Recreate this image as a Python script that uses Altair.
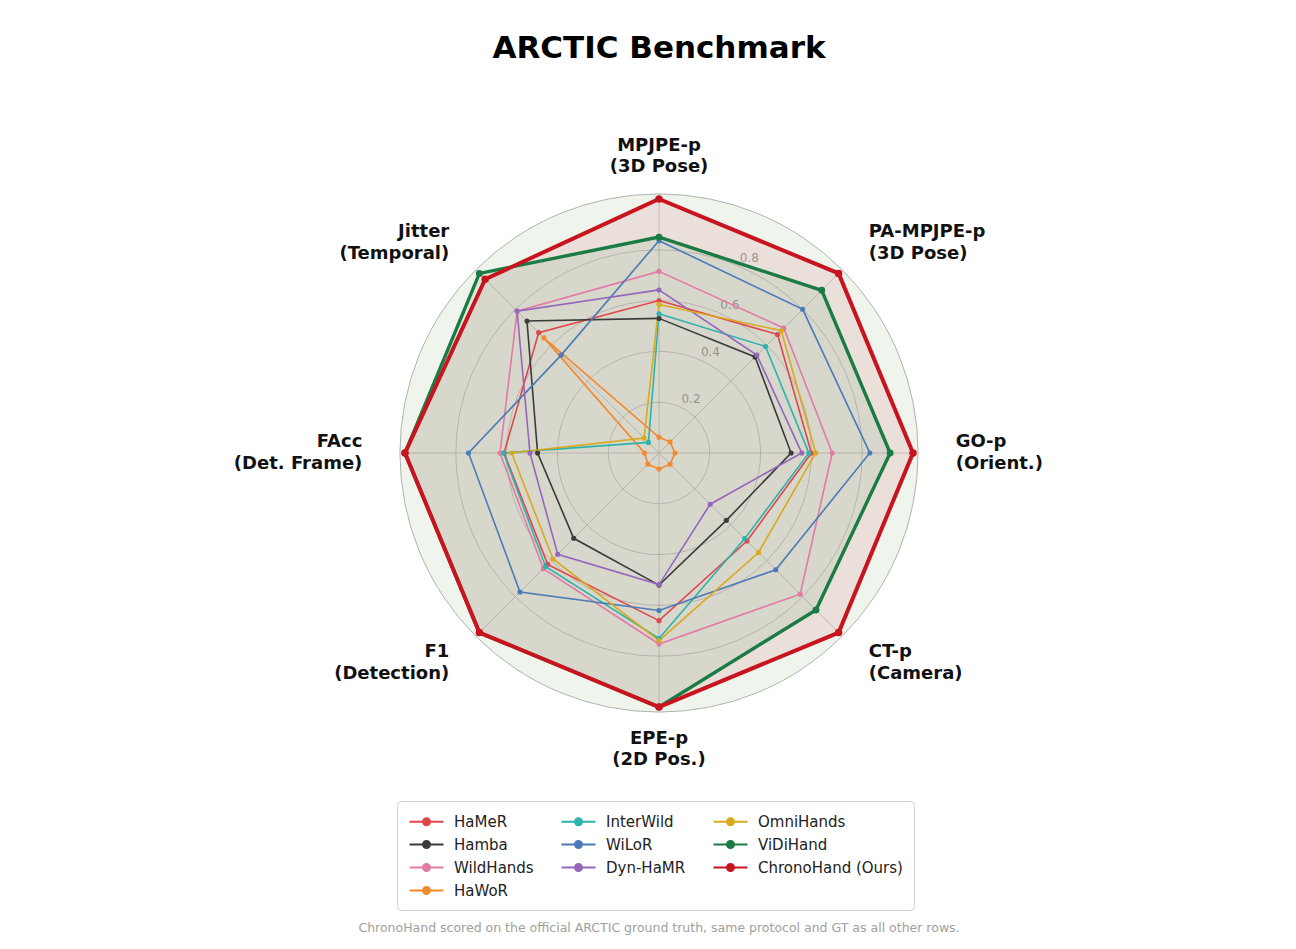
import math
import altair as alt
import pandas as pd

# ---------------- data ----------------
axis_names = ["MPJPE-p\n(3D Pose)", "PA-MPJPE-p\n(3D Pose)", "GO-p\n(Orient.)", "CT-p\n(Camera)",
              "EPE-p\n(2D Pos.)", "F1\n(Detection)", "FAcc\n(Det. Frame)", "Jitter\n(Temporal)"]

methods = ["HaMeR", "Hamba", "WildHands", "HaWoR", "InterWild", "WiLoR",
           "Dyn-HaMR", "OmniHands", "ViDiHand", "ChronoHand (Ours)"]

hamer      = [0.600, 0.660, 0.600, 0.490, 0.660, 0.620, 0.610, 0.670]
hamba      = [0.530, 0.535, 0.520, 0.375, 0.520, 0.475, 0.478, 0.735]
wildhands  = [0.715, 0.695, 0.682, 0.786, 0.752, 0.644, 0.626, 0.790]
hawor      = [0.062, 0.062, 0.063, 0.062, 0.063, 0.062, 0.057, 0.641]
interwild  = [0.548, 0.593, 0.590, 0.477, 0.730, 0.632, 0.612, 0.059]
wilor      = [0.836, 0.800, 0.830, 0.650, 0.620, 0.774, 0.750, 0.545]
dynhamr    = [0.642, 0.545, 0.562, 0.285, 0.518, 0.564, 0.508, 0.790]
omnihands  = [0.585, 0.681, 0.617, 0.554, 0.739, 0.590, 0.580, 0.083]
vidihand   = [0.850, 0.906, 0.910, 0.874, 1.000, 1.000, 1.000, 1.000]
chronohand = [1.000, 1.000, 1.000, 1.000, 1.000, 1.000, 1.000, 0.968]

series_values = [hamer, hamba, wildhands, hawor, interwild, wilor,
                 dynhamr, omnihands, vidihand, chronohand]

colors = ["#E0474C", "#3B3B3B", "#E07BA6", "#F28A30", "#2DB3AC",
          "#4A7AB8", "#9467BD", "#D9A91E", "#1B7B45", "#C8141F"]

# legend is filled row-major (3 columns), reorder for a column-wise reading like the original
legend_order = [0, 4, 7, 1, 5, 8, 2, 6, 9, 3]

ring_values = [0.2, 0.4, 0.6, 0.8]
R_MAX = 1.02
LABEL_R = 1.168

title_text = "ARCTIC Benchmark"
footnote = "ChronoHand scored on the official ARCTIC ground truth, same protocol and GT as all other rows."

# ---------------- layout ----------------
K = 254.0           # pixels per unit radius
W, H = 1260, 832
VIEW_LEFT, VIEW_TOP = 13, 76
CX, CY = 659, 452
X_MIN = -(CX - VIEW_LEFT) / K
X_MAX = (VIEW_LEFT + W - CX) / K
Y_MAX = (CY - VIEW_TOP) / K
Y_MIN = -(VIEW_TOP + H - CY) / K

N = len(axis_names)
rows = []
for m, vals in zip(methods, series_values):
    for i, v in enumerate(vals):
        rows.append({"method": m, "idx": i, "value": v})
df = pd.DataFrame(rows)

axes_df = pd.DataFrame({"idx": list(range(N)), "label": axis_names})
rings_df = pd.DataFrame({"r": ring_values})
disk_df = pd.DataFrame({"r": [R_MAX]})

xs = alt.Scale(domain=[X_MIN, X_MAX], nice=False, zero=False)
ys = alt.Scale(domain=[Y_MIN, Y_MAX], nice=False, zero=False)
rs = alt.Scale(type="linear", domain=[0, R_MAX], range=[0, R_MAX * K], zero=True, nice=False)


def X(f):
    return alt.X(f, type="quantitative", scale=xs, axis=None)


def Y(f):
    return alt.Y(f, type="quantitative", scale=ys, axis=None)


leg_domain = [methods[i] for i in legend_order]
leg_colors = [colors[i] for i in legend_order]

color_enc = alt.Color("method:N", scale=alt.Scale(domain=leg_domain, range=leg_colors),
                      legend=alt.Legend(title=None))

ANG = "datum.idx * 2 * PI / %d" % N

# background disk
disk = alt.Chart(disk_df).transform_calculate(zx="0", zy="0").mark_arc(
    theta=0, theta2=2 * math.pi, fill="#EFF5EC", stroke="#AEB5AC", strokeWidth=1
).encode(x=X("zx"), y=Y("zy"), radius=alt.Radius("r:Q", scale=rs, stack=False))

rings = alt.Chart(rings_df).transform_calculate(zx="0", zy="0").mark_arc(
    theta=0, theta2=2 * math.pi, filled=False, stroke="#BDBDBD", strokeWidth=0.8
).encode(x=X("zx"), y=Y("zy"), radius=alt.Radius("r:Q", scale=rs, stack=False))

spokes = alt.Chart(axes_df).transform_calculate(ang=ANG).transform_calculate(
    zx="0", zy="0", ex="%f*sin(datum.ang)" % R_MAX, ey="%f*cos(datum.ang)" % R_MAX
).mark_rule(color="#BDBDBD", strokeWidth=0.8).encode(x=X("zx"), y=Y("zy"), x2="ex:Q", y2="ey:Q")

ring_labels = alt.Chart(rings_df).transform_calculate(
    lx="datum.r*sin(PI/8)", ly="datum.r*cos(PI/8)"
).mark_text(align="left", baseline="bottom", color="#A0A0A0", fontSize=12, dx=3).encode(
    x=X("lx"), y=Y("ly"), text=alt.Text("r:Q", format=".1f"))

base = alt.Chart(df).transform_calculate(ang=ANG).transform_calculate(
    px="datum.value*sin(datum.ang)", py="datum.value*cos(datum.ang)")


def fill_layer(name, col, op):
    return base.transform_filter(alt.datum.method == name).mark_line(
        interpolate="linear-closed", fill=col, fillOpacity=op, strokeOpacity=0
    ).encode(x=X("px"), y=Y("py"), order="idx:Q")


fills = [fill_layer("ChronoHand (Ours)", "#C8141F", 0.09),
         fill_layer("ViDiHand", "#1B7B45", 0.085)]

# (methods in group, line width, marker size)
groups = [(methods[:8], 1.6, 26), (["ViDiHand"], 3.4, 48), (["ChronoHand (Ours)"], 4.0, 56)]
line_layers = []
for g, lw, ms in groups:
    sub = base.transform_filter(alt.FieldOneOfPredicate(field="method", oneOf=g))
    line_layers.append(sub.mark_line(interpolate="linear-closed", strokeJoin="miter",
                                     strokeWidth=lw).encode(
        x=X("px"), y=Y("py"), color=color_enc, order="idx:Q"))
    line_layers.append(sub.mark_point(filled=True, opacity=1, size=ms).encode(
        x=X("px"), y=Y("py"), color=color_enc))

lab_base = alt.Chart(axes_df).transform_calculate(ang=ANG).transform_calculate(
    lx="%f*sin(datum.ang)" % LABEL_R, ly="%f*cos(datum.ang)" % LABEL_R, s="sin(datum.ang)")
lab_kw = dict(baseline="middle", fontSize=18, fontWeight="bold", color="#111111",
              lineBreak="\n", lineHeight=21.5, font="DejaVu Sans", dy=-10.75)
lab_center = lab_base.transform_filter("abs(datum.s) < 0.1").mark_text(align="center", **lab_kw).encode(
    x=X("lx"), y=Y("ly"), text="label:N")
lab_left = lab_base.transform_filter("datum.s >= 0.1").mark_text(align="left", **lab_kw).encode(
    x=X("lx"), y=Y("ly"), text="label:N")
lab_right = lab_base.transform_filter("datum.s <= -0.1").mark_text(align="right", **lab_kw).encode(
    x=X("lx"), y=Y("ly"), text="label:N")

radar = alt.layer(disk, rings, spokes, ring_labels, *fills, *line_layers,
                  lab_center, lab_left, lab_right).properties(
    width=W, height=H,
    title=alt.TitleParams(title_text, font="DejaVu Sans", fontSize=31, fontWeight="bold",
                          color="#000000", anchor="middle", dx=16, offset=12))

chart = alt.vconcat(radar).properties(
    padding={"left": 5, "top": 25, "right": 5, "bottom": 5},
    title=alt.TitleParams(footnote, orient="bottom", font="DejaVu Sans", fontSize=12.5,
                          fontWeight="normal", color="#A0A0A0", anchor="middle", dx=16, offset=11)
).configure(font="DejaVu Sans").configure_view(strokeWidth=0).configure_legend(
    orient="none", legendX=384, legendY=724, columns=3, direction="horizontal",
    symbolType="M-1,0L3.25,0M1.55,0A0.425,0.425,0,1,1,0.7,0A0.425,0.425,0,1,1,1.55,0Z",
    symbolSize=256, symbolStrokeWidth=2.2, labelFont="DejaVu Sans", labelFontSize=15,
    labelColor="#222222", labelOffset=27, columnPadding=23, rowPadding=5, padding=11,
    strokeColor="#D0D0D0", fillColor="#FFFFFF", cornerRadius=4, labelLimit=300
)

chart.save("out.html", embed_options={"renderer": "svg", "actions": False})
